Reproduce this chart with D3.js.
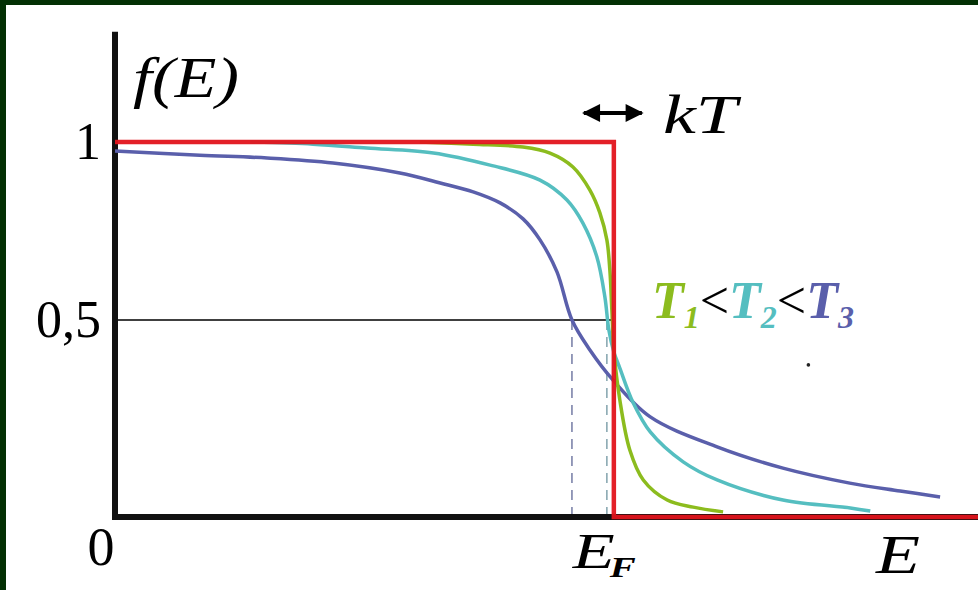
<!DOCTYPE html>
<meta charset="utf-8">
<head>
    <script type="text/javascript" src="https://cdn.jsdelivr.net/npm/d3@7/dist/d3.min.js"></script>
    <style>
        body { margin: 0; background: #fff; overflow: hidden; }
        svg { display: block; }
        text { font-family: "Liberation Serif", "Times New Roman", serif; }
    </style>
</head>

<body>
<div id="chart"></div>
</body>

<script>

    // energy in units of E_F, f(E)
    var stepE = [0, 1, 1, 1.73];
    var stepF = [1, 1, 0, 0];

    // T1 (coldest)
    var t1E = [0.611, 0.718, 0.818, 0.872, 0.918, 0.952, 0.972, 0.986, 0.992, 0.996, 1.0, 1.012, 1.032, 1.059, 1.107, 1.159, 1.219];
    var t1F = [1.0, 0.994, 0.986, 0.969, 0.93, 0.865, 0.801, 0.725, 0.64, 0.528, 0.424, 0.297, 0.17, 0.094, 0.043, 0.025, 0.013];

    // T2
    var t2E = [0.271, 0.397, 0.505, 0.638, 0.752, 0.852, 0.906, 0.938, 0.966, 0.982, 0.99, 1.0, 1.012, 1.038, 1.073, 1.139, 1.207, 1.339, 1.474, 1.514];
    var t2F = [1.0, 0.994, 0.983, 0.969, 0.935, 0.893, 0.837, 0.772, 0.677, 0.565, 0.475, 0.419, 0.378, 0.292, 0.216, 0.14, 0.094, 0.043, 0.023, 0.015];

    // T3 (hottest)
    var t3E = [0, 0.17, 0.305, 0.437, 0.571, 0.652, 0.718, 0.772, 0.818, 0.852, 0.886, 0.916, 0.952, 0.998, 1.073, 1.207, 1.339, 1.473, 1.574, 1.654];
    var t3F = [0.975, 0.963, 0.955, 0.941, 0.913, 0.885, 0.86, 0.829, 0.784, 0.725, 0.635, 0.5, 0.424, 0.348, 0.254, 0.178, 0.124, 0.086, 0.066, 0.051];

    // where T3 and T2 cross one half
    var halfE = [0.916, 0.986];

    var yTicks = [0.5, 1];
    var yTickLabels = ["0,5", "1"];

    var strayDot = [1.39, 0.386];

    var width = 978, height = 590;

    var svg = d3.select('#chart')
        .append('svg')
        .attr('width', width)
        .attr('height', height);

    svg.append('rect').attr('width', width).attr('height', height).attr('fill', '#fff');

    // dark green frame on the left and top
    svg.append('rect').attr('x', 0).attr('y', 0).attr('width', width).attr('height', 5).attr('fill', '#033004');
    svg.append('rect').attr('x', 0).attr('y', 0).attr('width', 6).attr('height', height).attr('fill', '#033004');

    var x = d3.scaleLinear().domain([0, 1.73]).range([115, 978]);
    var y = d3.scaleLinear().domain([0, 0.5, 1]).range([517, 320, 142]);

    var line = d3.line()
        .x(function (d) { return x(d[0]); })
        .y(function (d) { return y(d[1]); })
        .curve(d3.curveCatmullRom.alpha(0.5));

    var stepLine = d3.line()
        .x(function (d) { return x(d[0]); })
        .y(function (d) { return y(d[1]); });

    // half level line
    svg.append('line')
        .attr('x1', x(0)).attr('x2', x(1) - 2)
        .attr('y1', y(0.5)).attr('y2', y(0.5))
        .attr('stroke', '#000').attr('stroke-width', 1.6);

    // dashed drops to the E axis
    svg.selectAll('.drop')
        .data(halfE)
        .enter().append('line')
        .attr('class', 'drop')
        .attr('x1', function (d) { return x(d); })
        .attr('x2', function (d) { return x(d); })
        .attr('y1', y(0.5))
        .attr('y2', y(0))
        .attr('stroke', function (d, i) { return i == 0 ? '#7c84aa' : '#8aa9b2'; })
        .attr('stroke-width', 1.6)
        .attr('stroke-dasharray', '10,7');

    // axes
    svg.append('line')
        .attr('x1', x(0)).attr('x2', x(0))
        .attr('y1', y(0) + 3).attr('y2', y(1.31))
        .attr('stroke', '#111').attr('stroke-width', 6);
    svg.append('line')
        .attr('x1', x(0) - 3).attr('x2', x(1.73))
        .attr('y1', y(0)).attr('y2', y(0))
        .attr('stroke', '#111').attr('stroke-width', 6);

    var yAxis = d3.axisLeft(y)
        .tickValues(yTicks)
        .tickFormat(function (d, i) { return yTickLabels[i]; })
        .tickSize(0)
        .tickPadding(14);

    var gy = svg.append('g')
        .attr('transform', 'translate(' + x(0) + ',0)')
        .call(yAxis);
    gy.select('.domain').remove();
    gy.selectAll('text')
        .attr('font-family', '"Liberation Serif", serif')
        .attr('font-size', 52)
        .attr('fill', '#000');

    // curves
    var curves = [
        {e: t3E, f: t3F, color: '#5a5fab'},
        {e: t2E, f: t2F, color: '#55bec0'},
        {e: t1E, f: t1F, color: '#8cbc1e'}
    ];

    curves.forEach(function (c) {
        svg.append('path')
            .datum(d3.zip(c.e, c.f))
            .attr('d', line)
            .attr('fill', 'none')
            .attr('stroke', c.color)
            .attr('stroke-width', 3.5);
    });

    // T = 0 step
    svg.append('path')
        .datum(d3.zip(stepE, stepF))
        .attr('d', stepLine)
        .attr('fill', 'none')
        .attr('stroke', '#e2141c')
        .attr('stroke-width', 4.5)
        .attr('opacity', 0.95);

    svg.append('circle')
        .attr('cx', x(strayDot[0])).attr('cy', y(strayDot[1]))
        .attr('r', 1.8).attr('fill', '#222');

    // labels
    svg.append('text')
        .attr('x', 133).attr('y', 97)
        .attr('font-size', 58).attr('font-style', 'italic')
        .attr('textLength', 106).attr('lengthAdjust', 'spacingAndGlyphs')
        .text('f(E)');

    svg.append('text')
        .attr('x', x(0) - 14).attr('y', 565)
        .attr('text-anchor', 'middle')
        .attr('font-size', 54)
        .text('0');

    svg.append('text')
        .attr('x', x(1) - 41).attr('y', 568)
        .attr('font-size', 50).attr('font-style', 'italic')
        .attr('textLength', 42).attr('lengthAdjust', 'spacingAndGlyphs')
        .text('E');
    svg.append('text')
        .attr('x', x(1) - 4).attr('y', 577)
        .attr('font-size', 30).attr('font-style', 'italic').attr('font-weight', 'bold')
        .attr('textLength', 26).attr('lengthAdjust', 'spacingAndGlyphs')
        .text('F');

    svg.append('text')
        .attr('x', 876).attr('y', 573)
        .attr('font-size', 54).attr('font-style', 'italic')
        .attr('textLength', 44).attr('lengthAdjust', 'spacingAndGlyphs')
        .text('E');

    svg.append('text')
        .attr('x', 663).attr('y', 133)
        .attr('font-size', 54).attr('font-style', 'italic')
        .attr('textLength', 74).attr('lengthAdjust', 'spacingAndGlyphs')
        .text('kT');

    // kT double arrow
    var defs = svg.append('defs');
    defs.append('marker')
        .attr('id', 'head')
        .attr('viewBox', '0 0 10 10')
        .attr('refX', 9).attr('refY', 5)
        .attr('markerWidth', 5).attr('markerHeight', 4.5)
        .attr('orient', 'auto-start-reverse')
        .append('path')
        .attr('d', 'M0,0 L10,5 L0,10 Z')
        .attr('fill', '#000');

    svg.append('line')
        .attr('x1', x(1) - 30).attr('x2', x(1) + 28)
        .attr('y1', 113).attr('y2', 113)
        .attr('stroke', '#000').attr('stroke-width', 4)
        .attr('marker-start', 'url(#head)')
        .attr('marker-end', 'url(#head)');

    // temperature order
    var tl = svg.append('text')
        .attr('x', 652).attr('y', 318)
        .attr('font-size', 52)
        .attr('font-weight', 'bold')
        .attr('font-style', 'italic');
    var parts = [
        {t: 'T', s: '1', c: '#8cbc1e'},
        {t: 'T', s: '2', c: '#55bec0'},
        {t: 'T', s: '3', c: '#5a5fab'}
    ];
    parts.forEach(function (p, i) {
        if (i > 0) {
            tl.append('tspan').attr('dy', -10).attr('fill', '#000')
                .attr('font-weight', 'normal').attr('font-style', 'normal').text('<');
        }
        tl.append('tspan').attr('fill', p.c).text(p.t);
        tl.append('tspan').attr('dy', 10).attr('font-size', 32).attr('fill', p.c).text(p.s);
    });

</script>
